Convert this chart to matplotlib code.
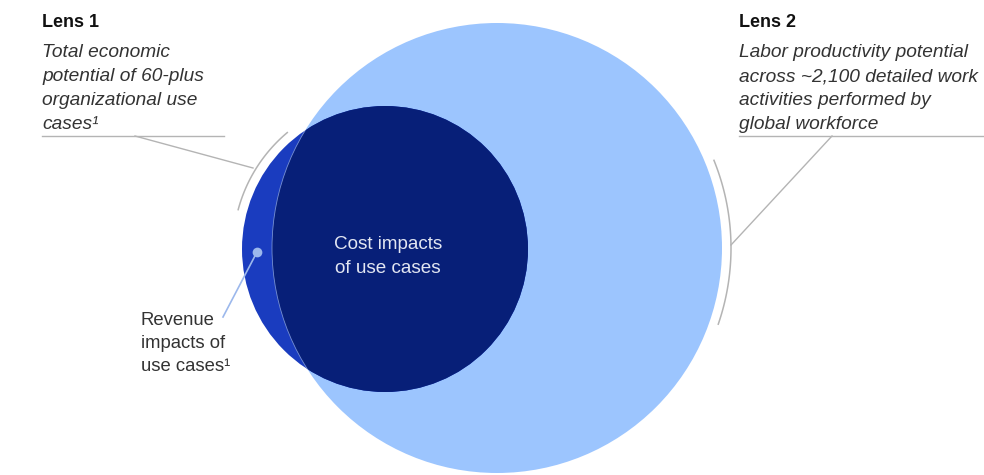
import numpy as np
import matplotlib
matplotlib.use("Agg")
import matplotlib.pyplot as plt
from matplotlib.patches import Circle

plt.rcParams['font.family'] = ['Liberation Sans', 'DejaVu Sans']

# diagram geometry (pixel space of the original graphic)
lens2_circle = (497, 248, 225)   # labor productivity potential
lens1_circle = (385, 249, 143)   # use cases

lens1_title = "Lens 1"
lens1_lines = ["Total economic", "potential of 60-plus", "organizational use", "cases\u00b9"]
lens2_title = "Lens 2"
lens2_lines = ["Labor productivity potential", "across ~2,100 detailed work",
               "activities performed by", "global workforce"]
cost_lines = ["Cost impacts", "of use cases"]
revenue_lines = ["Revenue", "impacts of", "use cases\u00b9"]

LIGHT = "#9cc5fe"
NAVY = "#071f78"
MID = "#1a3cbf"
GRAY = "#b4b4b4"
TEXT = "#333333"


def arc(ax, c, r, a0, a1, **kw):
    t = np.radians(np.linspace(a0, a1, 100))
    ax.plot(c[0] + r * np.cos(t), c[1] - r * np.sin(t), **kw)


def main():
    fig = plt.figure(figsize=(9.84, 4.75), dpi=100)
    ax = fig.add_axes([0, 0, 1, 1])
    ax.set_xlim(0, 984)
    ax.set_ylim(475, 0)
    ax.axis("off")

    bx, by, br = lens2_circle
    sx, sy, sr = lens1_circle

    big = Circle((bx, by), br, facecolor=LIGHT, edgecolor="none", zorder=1)
    ax.add_patch(big)
    ax.add_patch(Circle((sx, sy), sr, facecolor=MID, edgecolor="none", zorder=2))
    inner = Circle((sx, sy), sr, facecolor=NAVY, edgecolor="none", zorder=3)
    ax.add_patch(inner)
    inner.set_clip_path(big)
    edge = Circle((bx, by), br, facecolor="none", edgecolor="#8fa8e0",
                  linewidth=0.6, alpha=0.8, zorder=4)
    ax.add_patch(edge)
    clip = Circle((sx, sy), sr, transform=ax.transData)
    edge.set_clip_path(clip)

    # bracket arcs and leader lines
    arc(ax, (sx, sy), 152, 130, 165, color=GRAY, lw=1.1, zorder=5)
    ax.plot([135, 253], [136, 168], color=GRAY, lw=1.0, zorder=5)
    ax.plot([42, 224], [136, 136], color=GRAY, lw=1.0, zorder=5)

    arc(ax, (bx, by), 234, -19, 22, color=GRAY, lw=1.1, zorder=5)
    ax.plot([731, 832], [245, 136], color=GRAY, lw=1.0, zorder=5)
    ax.plot([739, 984], [136, 136], color=GRAY, lw=1.0, zorder=5)

    # revenue marker
    ax.plot([257, 223], [252, 317], color="#9cb8ec", lw=1.2, zorder=6)
    ax.plot(257, 252, "o", ms=7, color="#9cb8ec", mec="none", zorder=6)

    # texts
    ax.text(42, 27, lens1_title, fontsize=13, fontweight="bold", color="#111111", va="baseline")
    for i, s in enumerate(lens1_lines):
        ax.text(42, 57 + 24 * i, s, fontsize=13.8, style="italic", color=TEXT, va="baseline")
    ax.text(739, 27, lens2_title, fontsize=13, fontweight="bold", color="#111111", va="baseline")
    for i, s in enumerate(lens2_lines):
        ax.text(739, 57 + 24 * i, s, fontsize=13.8, style="italic", color=TEXT, va="baseline")

    for i, s in enumerate(cost_lines):
        ax.text(388, 249 + 24 * i, s, fontsize=13.6, color="#e2e6f2", ha="center",
                va="baseline", zorder=7)
    for i, s in enumerate(revenue_lines):
        ax.text(141, 325 + 23 * i, s, fontsize=13.3, color=TEXT, va="baseline")

    fig.savefig("out.png", dpi=100)


if __name__ == "__main__":
    main()
